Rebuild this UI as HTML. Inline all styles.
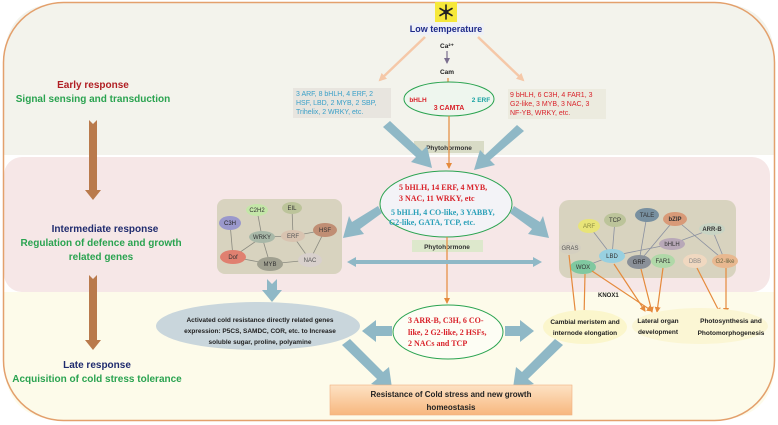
<!DOCTYPE html>
<html><head><meta charset="utf-8"><style>
html,body{margin:0;padding:0;background:#fff}
svg{display:block}
text{font-family:"Liberation Sans",sans-serif}
.b{font-weight:bold}
.s{font-family:"Liberation Serif",serif;font-weight:bold}
</style></head><body>
<svg width="778" height="425" viewBox="0 0 778 425" xmlns="http://www.w3.org/2000/svg">
<defs>
<linearGradient id="og" x1="0" y1="0" x2="0" y2="1"><stop offset="0" stop-color="#fde2c4"/><stop offset="1" stop-color="#f7b77e"/></linearGradient>
<marker id="oa" markerWidth="6" markerHeight="6" refX="5" refY="3" orient="auto" markerUnits="userSpaceOnUse"><path d="M0,0 L6,3 L0,6z" fill="#e58a3c"/></marker>
<marker id="pa" markerWidth="8" markerHeight="8" refX="6" refY="4" orient="auto" markerUnits="userSpaceOnUse"><path d="M0,0 L8,4 L0,8z" fill="#f5c8a8"/></marker>
<marker id="ga" markerWidth="6" markerHeight="6" refX="5" refY="3" orient="auto" markerUnits="userSpaceOnUse"><path d="M0,0 L6,3 L0,6z" fill="#7a6e8e"/></marker>
</defs>
<!-- bands -->
<path d="M63,3 H715 Q775,3 775,63 V155 H4 V63 Q4,3 63,3z" fill="#f3f3ec"/>
<rect x="4" y="157" width="766" height="135" rx="18" fill="#f6e7e7"/>
<path d="M4,292 H775 V360 Q775,420 715,420 H63 Q4,420 4,360z" fill="#fdfbea"/>
<rect x="3.5" y="2.5" width="771" height="418" rx="60" fill="none" stroke="#e3a06c" stroke-width="1.5"/>
<!-- left labels -->
<text x="93" y="88" text-anchor="middle" class="b" font-size="10" fill="#b01e23">Early response</text>
<text x="93" y="102" text-anchor="middle" class="b" font-size="10" fill="#2aa350">Signal  sensing and transduction</text>
<path d="M89,120 L93,124 L97,120 V190 H101 L93,200 L85,190 H89z" fill="#b97a4c"/>
<text x="105" y="232" text-anchor="middle" class="b" font-size="10" fill="#1f2b6e">Intermediate response</text>
<text x="101" y="246" text-anchor="middle" class="b" font-size="10" fill="#2aa350">Regulation of defence and growth</text>
<text x="101" y="260" text-anchor="middle" class="b" font-size="10" fill="#2aa350">related genes</text>
<path d="M89,275 L93,279 L97,275 V340 H101 L93,350 L85,340 H89z" fill="#b97a4c"/>
<text x="97" y="368" text-anchor="middle" class="b" font-size="10" fill="#1f2b6e">Late response</text>
<text x="97" y="382" text-anchor="middle" class="b" font-size="10" fill="#2aa350">Acquisition of cold stress tolerance</text>
<!-- top -->
<rect x="435" y="2" width="22" height="20" fill="#f6e83a"/>
<g stroke="#222" stroke-width="1.6" stroke-linecap="round">
<line x1="446" y1="5" x2="446" y2="19"/><line x1="440" y1="8.5" x2="452" y2="15.5"/><line x1="440" y1="15.5" x2="452" y2="8.5"/>
</g>
<circle cx="446" cy="12" r="2.5" fill="#222"/>
<rect x="410" y="23" width="74" height="12" fill="#eef0f6"/>
<text x="446" y="32" text-anchor="middle" class="b" font-size="9" fill="#1f2b8a">Low temperature</text>
<text x="447" y="48" text-anchor="middle" font-size="6.5" fill="#222" class="b">Ca²⁺</text>
<line x1="447" y1="51" x2="447" y2="63" stroke="#7a6e8e" stroke-width="1.2" marker-end="url(#ga)"/>
<text x="447" y="74" text-anchor="middle" font-size="6.5" fill="#222" class="b">Cam</text>
<line x1="425" y1="37" x2="380" y2="80" stroke="#f5c8a8" stroke-width="2.5" marker-end="url(#pa)"/>
<line x1="478" y1="37" x2="523" y2="80" stroke="#f5c8a8" stroke-width="2.5" marker-end="url(#pa)"/>
<line x1="448" y1="78" x2="448" y2="92" stroke="#e58a3c" stroke-width="1.2" marker-end="url(#oa)"/>
<ellipse cx="449" cy="99" rx="45" ry="17" fill="#eef6ee" stroke="#2aa350" stroke-width="1"/>
<text x="418" y="102" text-anchor="middle" class="b" font-size="6.5" fill="#d9232b">bHLH</text>
<text x="449" y="110" text-anchor="middle" class="b" font-size="7" fill="#d9232b">3 CAMTA</text>
<text x="481" y="102" text-anchor="middle" class="b" font-size="6.5" fill="#1aa3a3">2 ERF</text>
<rect x="293" y="88" width="98" height="30" fill="#e8e5df"/>
<text font-size="7" fill="#3aa0c8"><tspan x="296" y="96">3 ARF, 8 bHLH, 4 ERF, 2</tspan><tspan x="296" y="105">HSF, LBD, 2 MYB, 2 SBP,</tspan><tspan x="296" y="114">Trihelix, 2 WRKY, etc.</tspan></text>
<rect x="508" y="89" width="98" height="30" fill="#ecebdf"/>
<text font-size="7" fill="#d9232b"><tspan x="510" y="97">9 bHLH, 6 C3H, 4 FAR1, 3</tspan><tspan x="510" y="106">G2-like, 3 MYB, 3 NAC, 3</tspan><tspan x="510" y="115">NF-YB, WRKY, etc.</tspan></text>
<rect x="414" y="141" width="70" height="12" fill="#d8dbc6"/>
<text x="449" y="150" text-anchor="middle" class="b" font-size="6.5" fill="#333">Phytohormone</text>
<line x1="449" y1="116" x2="449" y2="168" stroke="#e58a3c" stroke-width="1.2" marker-end="url(#oa)"/>
<g fill="#8fb8c6">
<path d="M383,127 L390,121 L422,151 L427,146 L432,168 L411,162 L416,157z"/>
<path d="M524,131 L517,125 L485,155 L480,150 L474,170 L495,165 L490,160z"/>
</g>
<!-- central ellipse -->
<ellipse cx="446" cy="204" rx="66" ry="33" fill="#f3f3f7" stroke="#2aa350" stroke-width="1"/>
<text class="s" font-size="8" fill="#d9232b"><tspan x="399" y="190">5 bHLH, 14 ERF, 4 MYB,</tspan><tspan x="399" y="201">3 NAC, 11 WRKY, etc</tspan></text>
<text class="s" font-size="8" fill="#2aa0b8"><tspan x="391" y="215">5 bHLH, 4 CO-like, 3 YABBY,</tspan><tspan x="389" y="225">G2-like, GATA, TCP, etc.</tspan></text>
<rect x="412" y="240" width="71" height="12" fill="#dde8cc"/>
<text x="447" y="249" text-anchor="middle" class="b" font-size="6.5" fill="#333">Phytohormone</text>
<line x1="447" y1="237" x2="447" y2="303" stroke="#e58a3c" stroke-width="1.2" marker-end="url(#oa)"/>
<g fill="#8fb8c6">
<path d="M382,213 L378,206 L352,222 L349,216 L343,238 L364,234 L360,229z"/>
<path d="M510,213 L514,206 L540,222 L543,216 L549,238 L528,234 L532,229z"/>
<path d="M347,262 L356,257 V260 H533 V257 L542,262 L533,267 V264 H356 V267z"/>
<path d="M267,279 L272,284 L277,279 V290 H282 L272,302 L262,290 H267z"/>
</g>
<!-- left network -->
<rect x="217" y="199" width="125" height="75" rx="8" fill="#d8d3bf"/>
<g stroke="#8a8a80" stroke-width="0.8">
<line x1="230" y1="223" x2="233" y2="257"/><line x1="257" y1="210" x2="262" y2="237"/><line x1="292" y1="208" x2="293" y2="236"/>
<line x1="262" y1="237" x2="293" y2="236"/><line x1="262" y1="237" x2="233" y2="257"/><line x1="262" y1="237" x2="270" y2="264"/>
<line x1="293" y1="236" x2="310" y2="260"/><line x1="325" y1="230" x2="310" y2="260"/><line x1="293" y1="236" x2="325" y2="230"/>
<line x1="233" y1="257" x2="270" y2="264"/><line x1="270" y1="264" x2="310" y2="260"/>
</g>
<g font-size="6" text-anchor="middle">
<ellipse cx="230" cy="223" rx="11" ry="7" fill="#9a98cc"/><text x="230" y="225" fill="#222">C3H</text>
<ellipse cx="257" cy="210" rx="11" ry="6" fill="#c4e6a8"/><text x="257" y="212" fill="#333">C2H2</text>
<ellipse cx="292" cy="208" rx="10" ry="6" fill="#bcc49a"/><text x="292" y="210" fill="#333">EIL</text>
<ellipse cx="262" cy="237" rx="13" ry="6" fill="#a8b8a8"/><text x="262" y="239" fill="#333">WRKY</text>
<ellipse cx="293" cy="236" rx="12" ry="6" fill="#d8c3b0"/><text x="293" y="238" fill="#555">ERF</text>
<ellipse cx="325" cy="230" rx="12" ry="7" fill="#c08e74"/><text x="325" y="232" fill="#333">HSF</text>
<ellipse cx="233" cy="257" rx="13" ry="7" fill="#e08070"/><text x="233" y="259" fill="#333">Dof</text>
<ellipse cx="270" cy="264" rx="13" ry="7" fill="#a0a090"/><text x="270" y="266" fill="#333">MYB</text>
<ellipse cx="310" cy="260" rx="12" ry="7" fill="#d8d0cc"/><text x="310" y="262" fill="#555">NAC</text>
</g>
<!-- right network -->
<rect x="559" y="200" width="177" height="78" rx="10" fill="#d8d3bf"/>
<g stroke="#8a90a0" stroke-width="0.8">
<line x1="589" y1="226" x2="612" y2="256"/><line x1="615" y1="220" x2="612" y2="256"/><line x1="647" y1="215" x2="639" y2="262"/>
<line x1="675" y1="219" x2="639" y2="262"/><line x1="675" y1="219" x2="725" y2="261"/><line x1="712" y1="229" x2="725" y2="261"/>
<line x1="712" y1="229" x2="672" y2="244"/><line x1="672" y1="244" x2="612" y2="256"/><line x1="612" y1="256" x2="583" y2="267"/>
</g>
<g font-size="6" text-anchor="middle">
<ellipse cx="589" cy="226" rx="11" ry="7" fill="#e8e478"/><text x="589" y="228" fill="#8a8a40">ARF</text>
<ellipse cx="615" cy="220" rx="11" ry="7" fill="#bcc49a"/><text x="615" y="222" fill="#333">TCP</text>
<ellipse cx="647" cy="215" rx="12" ry="7" fill="#7890a0"/><text x="647" y="217" fill="#333">TALE</text>
<ellipse cx="675" cy="219" rx="12" ry="7" fill="#d89a78"/><text x="675" y="221" fill="#333" font-weight="bold">bZIP</text>
<ellipse cx="712" cy="229" rx="13" ry="6" fill="#c8d4c4"/><text x="712" y="231" fill="#333" font-weight="bold">ARR-B</text>
<ellipse cx="570" cy="248" rx="11" ry="6" fill="#d4cfc0"/><text x="570" y="250" fill="#555">GRAS</text>
<ellipse cx="672" cy="244" rx="13" ry="6" fill="#b8a8b8"/><text x="672" y="246" fill="#333">bHLH</text>
<ellipse cx="612" cy="256" rx="13" ry="7" fill="#98d0e0"/><text x="612" y="258" fill="#333">LBD</text>
<ellipse cx="639" cy="262" rx="12" ry="7" fill="#8a9098"/><text x="639" y="264" fill="#222">GRF</text>
<ellipse cx="663" cy="261" rx="12" ry="7" fill="#b0d8a8"/><text x="663" y="263" fill="#333">FAR1</text>
<ellipse cx="695" cy="261" rx="12" ry="7" fill="#f0d8c0"/><text x="695" y="263" fill="#888">DBB</text>
<ellipse cx="725" cy="261" rx="13" ry="7" fill="#e8b890"/><text x="725" y="263" fill="#664">G2-like</text>
<ellipse cx="583" cy="267" rx="13" ry="7" fill="#80c8a0"/><text x="583" y="269" fill="#333">WOX</text>
</g>
<g stroke="#e58a3c" stroke-width="1.2" marker-end="url(#oa)">
<line x1="569" y1="255" x2="576" y2="318"/><line x1="585" y1="274" x2="584" y2="318"/>
<line x1="592" y1="271" x2="652" y2="311"/><line x1="614" y1="264" x2="645" y2="311"/>
<line x1="641" y1="269" x2="652" y2="312"/><line x1="663" y1="268" x2="657" y2="312"/>
<line x1="697" y1="268" x2="720" y2="313"/><line x1="726" y1="268" x2="726" y2="313"/>
</g>
<text x="598" y="297" font-size="6" class="b" fill="#222">KNOX1</text>
<ellipse cx="585" cy="327" rx="42" ry="17" fill="#fbf6cc"/>
<ellipse cx="700" cy="326" rx="68" ry="18" fill="#fbf6d4"/>
<g font-size="6.5" class="b" fill="#222" text-anchor="middle">
<text x="585" y="324">Cambial meristem and</text><text x="585" y="335">internode elongation</text>
<text x="658" y="323">Lateral organ</text><text x="658" y="334">development</text>
<text x="731" y="323">Photosynthesis and</text><text x="731" y="335">Photomorphogenesis</text>
</g>
<!-- bottom -->
<ellipse cx="258" cy="326" rx="102" ry="24" fill="#c9d6dc"/>
<g font-size="6.5" class="b" fill="#222" text-anchor="middle">
<text x="260" y="322">Activated cold resistance directly related genes</text>
<text x="260" y="333">expression: P5CS, SAMDC, COR, etc. to Increase</text>
<text x="260" y="344">soluble sugar, proline, polyamine</text>
</g>
<ellipse cx="448" cy="332" rx="55" ry="27" fill="#fdfdf4" stroke="#2aa350" stroke-width="1"/>
<text class="s" font-size="8" fill="#d9232b"><tspan x="408" y="323">3 ARR-B, C3H, 6 CO-</tspan><tspan x="408" y="335">like, 2 G2-like, 2 HSFs,</tspan><tspan x="408" y="346">2 NACs and TCP</tspan></text>
<g fill="#8fb8c6">
<path d="M392,326 H376 V320 L362,331 L376,342 V336 H392z"/>
<path d="M505,326 H520 V320 L534,331 L520,342 V336 H505z"/>
<path d="M342,345 L350,339 L383,372 L389,367 L392,388 L371,384 L377,379z"/>
<path d="M563,345 L555,339 L522,372 L516,367 L513,388 L534,384 L528,379z"/>
</g>
<rect x="330" y="385" width="242" height="30" fill="url(#og)" stroke="#f0b080" stroke-width="0.6"/>
<text x="451" y="397" text-anchor="middle" class="b" font-size="8" fill="#222">Resistance of Cold stress  and new growth</text>
<text x="451" y="410" text-anchor="middle" class="b" font-size="8" fill="#222">homeostasis</text>
</svg>
</body></html>
